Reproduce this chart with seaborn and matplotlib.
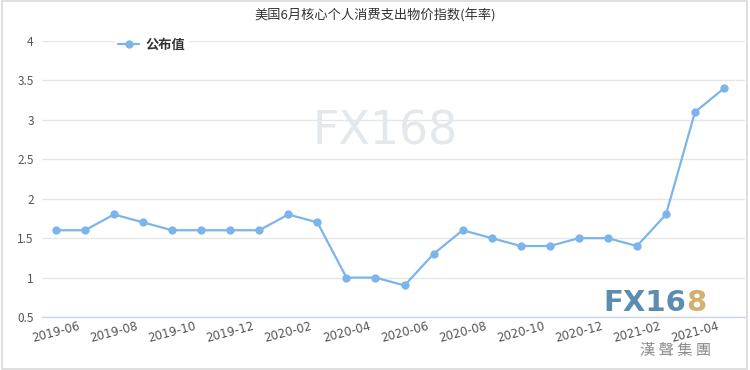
import matplotlib
matplotlib.use("Agg")
import matplotlib.pyplot as plt
import seaborn as sns
import pandas as pd
from matplotlib.patches import Rectangle

months = ["2019-06", "2019-07", "2019-08", "2019-09", "2019-10", "2019-11", "2019-12",
          "2020-01", "2020-02", "2020-03", "2020-04", "2020-05", "2020-06", "2020-07",
          "2020-08", "2020-09", "2020-10", "2020-11", "2020-12", "2021-01", "2021-02",
          "2021-03", "2021-04", "2021-05"]
values = [1.6, 1.6, 1.8, 1.7, 1.6, 1.6, 1.6, 1.6, 1.8, 1.7, 1.0, 1.0, 0.9, 1.3,
          1.6, 1.5, 1.4, 1.4, 1.5, 1.5, 1.4, 1.8, 3.1, 3.4]
yticks = [0.5, 1, 1.5, 2, 2.5, 3, 3.5, 4]
title = "美国6月核心个人消费支出物价指数(年率)"
series_name = "公布值"

sns.set_theme(style="white")
plt.rcParams['font.family'] = ['Noto Sans CJK SC', 'DejaVu Sans']

df = pd.DataFrame({"pos": range(len(months)), "month": months, "value": values})

fig = plt.figure(figsize=(7.5, 3.7), dpi=100)
ax = fig.add_axes([42/750, 1-317/370, (745-42)/750, (317-41)/370])

sns.lineplot(data=df, x="pos", y="value", ax=ax, color="#7cb5ec", linewidth=1.6,
             marker="o", markersize=6, markeredgewidth=0, label=series_name)

ax.set_ylim(0.5, 4)
ax.set_xlim(-0.48, 23.72)
ax.set_yticks(yticks)
ax.set_yticklabels([f"{t:g}" for t in yticks], fontsize=8.5, color="#555555")
ax.set_xticks(df["pos"][::2])
ax.set_xticklabels(df["month"][::2], rotation=15, fontsize=8.5, color="#555555",
                   family="DejaVu Sans")
ax.tick_params(axis="both", length=0, pad=6)
ax.tick_params(axis="x", pad=2)
ax.set_xlabel("")
ax.set_ylabel("")
ax.grid(axis="y", color="#e6e6e6", linewidth=1)
ax.set_axisbelow(True)
for s in ["top", "right", "left"]:
    ax.spines[s].set_visible(False)
ax.spines["bottom"].set_color("#ccd6eb")
ax.spines["bottom"].set_linewidth(1)

leg = ax.legend(loc="upper left", bbox_to_anchor=(0.095, 1.045), frameon=True,
                fontsize=9.5, handlelength=1.6, borderpad=0.2, handletextpad=0.5)
leg.get_frame().set_edgecolor("white")
leg.get_frame().set_facecolor("white")
leg.get_frame().set_alpha(1)
for t in leg.get_texts():
    t.set_fontweight("bold")
    t.set_color("#333333")

fig.text(0.5, 1-15/370, title, ha="center", va="center", fontsize=9.5, color="#333333")

# watermark
fig.text(385/750, 1-132/370, "FX168", ha="center", va="center", fontsize=33,
         color="#e3e8ec", family="DejaVu Sans", zorder=0)

# logo
fig.text(603/750, 1-303/370, "FX16", ha="left", va="center", fontsize=21,
         color="#5b8db0", family="DejaVu Sans", fontweight="bold")
fig.text(686/750, 1-303/370, "8", ha="left", va="center", fontsize=21,
         color="#d2b06e", family="DejaVu Sans", fontweight="bold")
fig.text(640/750, 1-351/370, "漢 聲 集 團", ha="left", va="center", fontsize=11,
         color="#8c8c8c")

fig.patches.append(Rectangle((0.002, 0.003), 0.994, 0.993, transform=fig.transFigure,
                             fill=False, edgecolor="#d9d9d9", linewidth=1.2))

fig.savefig("out.png", dpi=100)
